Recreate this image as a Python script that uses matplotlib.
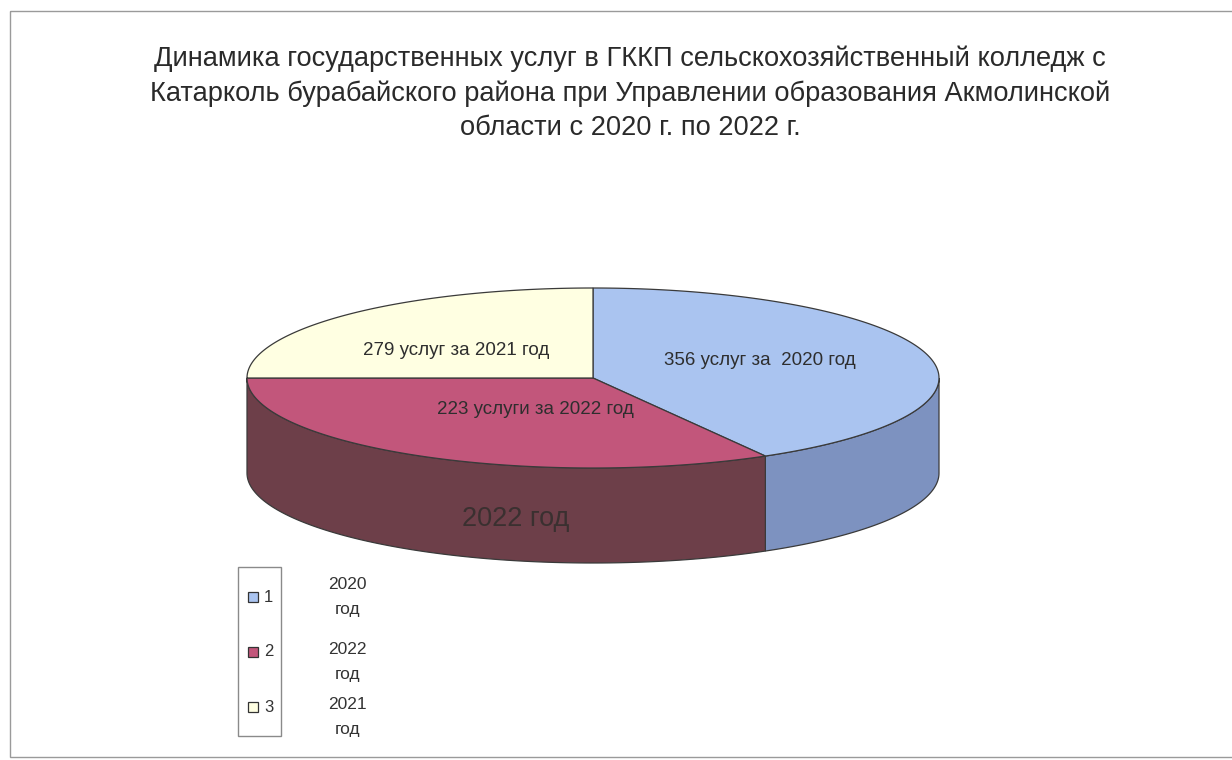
import numpy as np
import matplotlib
matplotlib.use("Agg")
import matplotlib.pyplot as plt
from matplotlib.patches import Polygon, Rectangle

# data
years = ["2020", "2022", "2021"]
services = [356, 223, 279]                 # values written on the slices
slice_share = [41.7, 33.3, 25.0]           # slice sizes as drawn (percent of the pie)
legend_ids = ["1", "2", "3"]
slice_labels = ["356 услуг за  2020 год", "223 услуги за 2022 год", "279 услуг за 2021 год"]
side_label = "2022 год"
title = ("Динамика государственных услуг в ГККП сельскохозяйственный колледж с\n"
         "Катарколь бурабайского района при Управлении образования Акмолинской\n"
         "области с 2020 г. по 2022 г.")

top_colors = ["#AAC4F0", "#C2567B", "#FFFFE2"]
side_colors = ["#7D92C0", "#6D3F49", "#D8D8B8"]

plt.rcParams['font.family'] = ['Liberation Sans', 'DejaVu Sans']

fig = plt.figure(figsize=(12.32, 7.6), dpi=100)
ax = fig.add_axes([0, 0, 1, 1])
ax.set_xlim(0, 1232)
ax.set_ylim(760, 0)
ax.axis("off")

# outer frame of the chart area
ax.add_patch(Rectangle((10, 11), 1240, 746, fill=False, ec="#9a9a9a", lw=1))

ax.text(630, 93, title, ha="center", va="center", fontsize=19.6,
        color="#2a2a2a", linespacing=1.4)

# 3d pie geometry
cx, cy = 593, 378
a, b = 346, 90
depth = 95

def pt(t, r=1.0, dz=0.0):
    return cx + a * r * np.cos(t), cy - b * r * np.sin(t) + dz

# angles: start at 12 o'clock, go clockwise
fr = np.array(slice_share) / np.sum(slice_share)
ends = np.pi / 2 - 2 * np.pi * np.cumsum(fr)
starts = np.concatenate([[np.pi / 2], ends[:-1]])

# side walls (front half only: angles between -pi and 0)
for i in range(len(fr)):
    lo, hi = ends[i], starts[i]
    for shift in (0, 2 * np.pi, -2 * np.pi):
        l2, h2 = max(lo + shift, -np.pi), min(hi + shift, 0)
        if h2 > l2:
            t = np.linspace(l2, h2, 120)
            xs, ys = pt(t)
            xb, yb = pt(t[::-1], dz=depth)
            poly = np.column_stack([np.r_[xs, xb], np.r_[ys, yb]])
            ax.add_patch(Polygon(poly, closed=True, fc=side_colors[i],
                                 ec="#3a3a3a", lw=0.9, zorder=2))

# top faces
for i in range(len(fr)):
    t = np.linspace(starts[i], ends[i], 200)
    xs, ys = pt(t)
    poly = np.column_stack([np.r_[cx, xs], np.r_[cy, ys]])
    ax.add_patch(Polygon(poly, closed=True, fc=top_colors[i],
                         ec="#3a3a3a", lw=0.9, zorder=3))

# labels on slices
label_r = [0.5, 0.33, 0.56]
label_dy = [-6, 6, 8]
for i in range(len(fr)):
    mid = (starts[i] + ends[i]) / 2
    x, y = pt(mid, r=label_r[i])
    ax.text(x, y + label_dy[i], slice_labels[i], ha="center", va="center",
            fontsize=13.5, color="#2e2e2e", zorder=5)

# label on the visible side of the 2022 slice
i = years.index("2022")
l2, h2 = max(ends[i], -np.pi), min(starts[i], 0)
xm = (pt(l2)[0] + pt(h2)[0]) / 2
ax.text(xm + 10, pt(-np.pi / 2)[1] + depth / 2 + 4, side_label, ha="center",
        va="center", fontsize=19.5, color="#3a3030", zorder=5)

# legend
legend_text_dy = [0, 10, 10]
ax.add_patch(Rectangle((238, 567), 43, 169, fill=False, ec="#8a8a8a", lw=1))
for k in range(len(years)):
    yk = 597 + 55 * k
    ax.add_patch(Rectangle((248, yk - 5), 10, 10, fc=top_colors[k],
                           ec="#333333", lw=0.9))
    ax.text(264, yk, legend_ids[k], ha="left", va="center", fontsize=12,
            color="#333333")
    ax.text(347, yk + legend_text_dy[k], years[k] + "\nгод", ha="center",
            va="center", fontsize=12.5, color="#333333", linespacing=1.9)

fig.savefig("out.png", dpi=100, facecolor="white")
